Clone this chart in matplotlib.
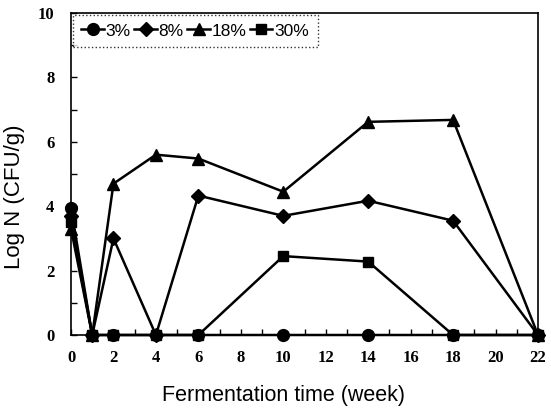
import matplotlib
matplotlib.use("Agg")
import matplotlib.pyplot as plt
from matplotlib.ticker import MultipleLocator

weeks = [0, 1, 2, 4, 6, 10, 14, 18, 22]
s3 = [3.95, 0, 0, 0, 0, 0, 0, 0, 0]
s8 = [3.7, 0, 3.0, 0, 4.33, 3.7, 4.17, 3.55, 0]
s18 = [3.3, 0, 4.7, 5.6, 5.48, 4.45, 6.62, 6.68, 0]
s30 = [3.5, 0, 0, 0, 0, 2.45, 2.28, 0, 0]
labels = ["3%", "8%", "18%", "30%"]
xticks = [0, 2, 4, 6, 8, 10, 12, 14, 16, 18, 20, 22]
yticks = [0, 2, 4, 6, 8, 10]

fig = plt.figure(figsize=(5.51, 4.13), dpi=100)
ax = fig.add_axes([71/551, 1 - 335/413, (538-71)/551, (335-13)/413])

series = [s3, s8, s18, s30]
markers = ["o", "D", "^", "s"]
msizes = [8.5, 7, 8.5, 7]
zorders = [5, 3, 3, 4]
for vals, m, ms, lab, z in zip(series, markers, msizes, labels, zorders):
    ax.plot(weeks, vals, color="black", lw=1.8, marker=m, ms=ms, label=lab,
            clip_on=False, zorder=z)

ax.set_xlim(0, 22)
ax.set_ylim(0, 10)
ax.set_xticks(xticks)
ax.set_yticks(yticks)
ax.xaxis.set_minor_locator(MultipleLocator(1))
ax.yaxis.set_minor_locator(MultipleLocator(1))
ax.tick_params(which="both", direction="in", length=4, width=1, top=False, right=False)
ax.tick_params(axis="x", which="major", pad=11)
ax.tick_params(axis="y", which="major", pad=12)
for t in ax.get_xticklabels() + ax.get_yticklabels():
    t.set_fontfamily("Liberation Serif")
    t.set_fontweight("bold")
    t.set_fontsize(12)
for sp in ax.spines.values():
    sp.set_linewidth(1.2)

ax.set_xlabel("Fermentation time (week)", fontfamily="Liberation Sans", fontsize=15.5)
ax.xaxis.set_label_coords(0.456, -0.155)
ax.set_ylabel("Log N (CFU/g)", fontfamily="Liberation Sans", fontsize=16)
ax.yaxis.set_label_coords(-0.098, 0.43)

leg = ax.legend(loc="upper left", ncol=4, frameon=True, fancybox=False,
                handlelength=1.3, handletextpad=0.1, columnspacing=0.2,
                borderaxespad=0.1, prop={"family": "Liberation Sans", "size": 12.5},
                borderpad=0.5, markerscale=1.0)
leg.get_frame().set_edgecolor("black")
leg.get_frame().set_linestyle(":")
leg.get_frame().set_linewidth(1)

fig.savefig("out.png", dpi=100)
